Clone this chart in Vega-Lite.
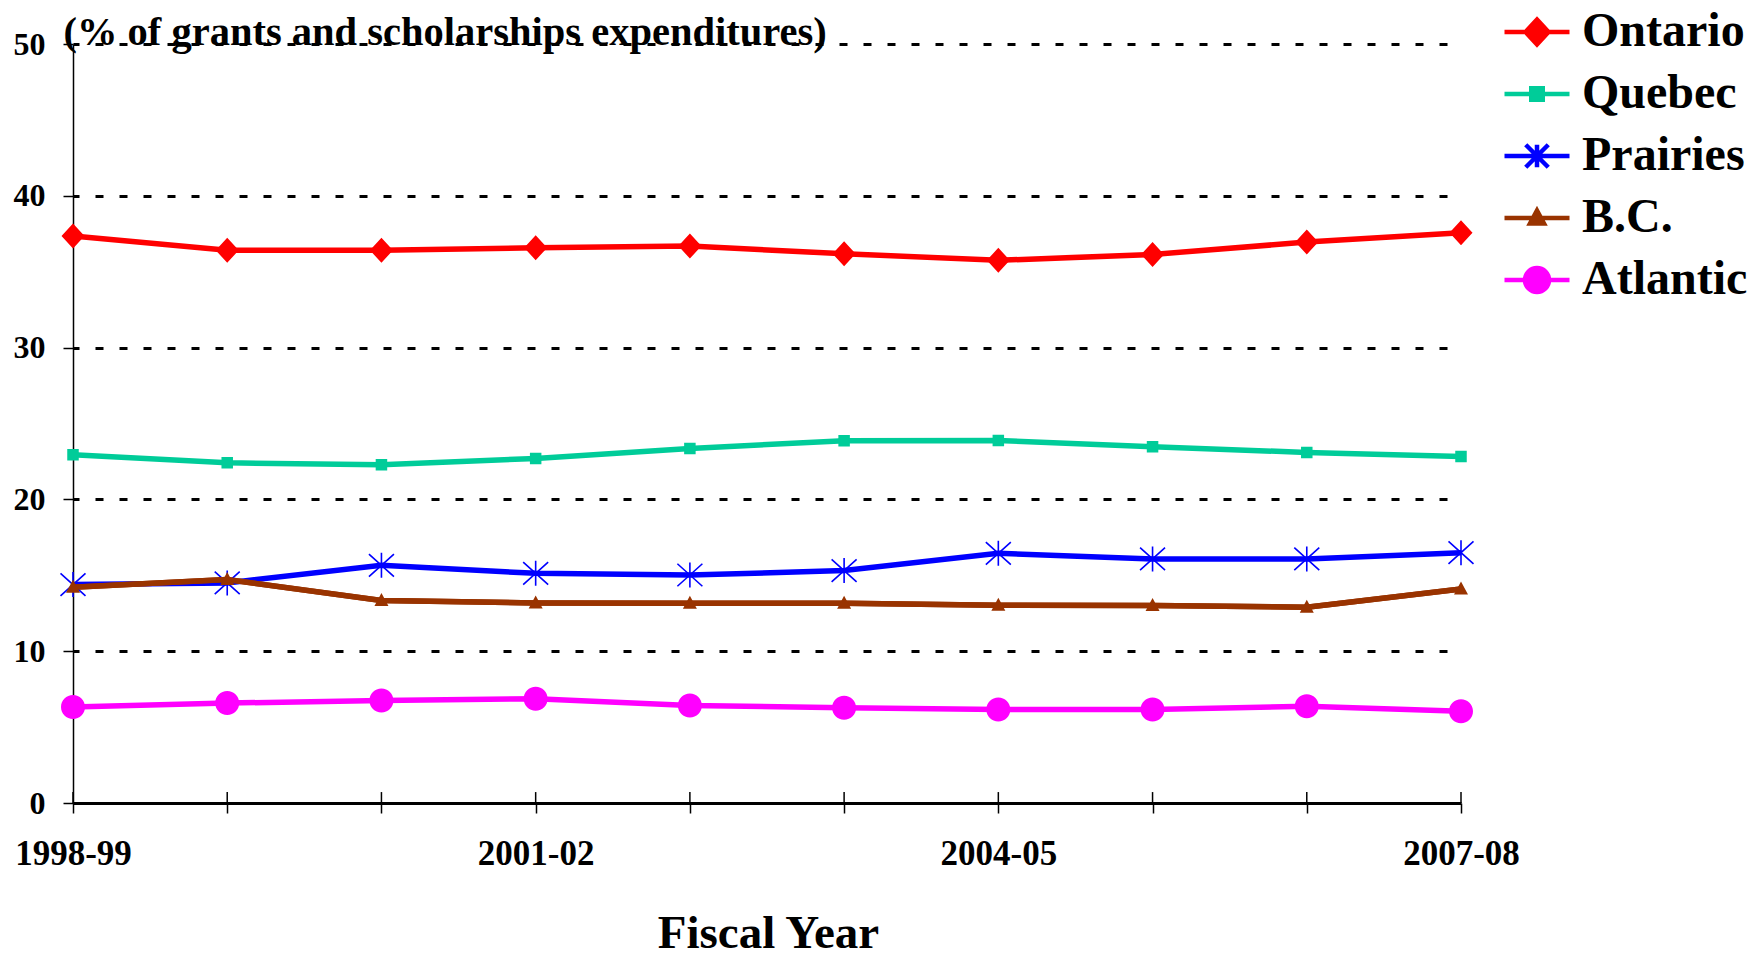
{
  "$schema": "https://vega.github.io/schema/vega-lite/v6.json",
  "width": 1388,
  "height": 759,
  "autosize": {"type": "none"},
  "padding": {"left": 73, "top": 44, "right": 299, "bottom": 150},
  "background": "white",
  "config": {
    "view": {"stroke": null},
    "font": "Liberation Serif",
    "legend": {
      "orient": "none",
      "legendX": 1440,
      "legendY": -36,
      "labelFont": "Liberation Serif",
      "labelFontSize": 48,
      "labelFontWeight": "bold",
      "labelColor": "black",
      "labelOffset": 21,
      "labelLimit": 500,
      "rowPadding": 14,
      "symbolSize": 625,
      "symbolStrokeWidth": 4.5
    }
  },
  "data": {
    "values": [
      {"Year": "1998-99", "Region": "Ontario", "Share": 37.35},
      {"Year": "1999-00", "Region": "Ontario", "Share": 36.41},
      {"Year": "2000-01", "Region": "Ontario", "Share": 36.41},
      {"Year": "2001-02", "Region": "Ontario", "Share": 36.58},
      {"Year": "2002-03", "Region": "Ontario", "Share": 36.69},
      {"Year": "2003-04", "Region": "Ontario", "Share": 36.18},
      {"Year": "2004-05", "Region": "Ontario", "Share": 35.75},
      {"Year": "2005-06", "Region": "Ontario", "Share": 36.14},
      {"Year": "2006-07", "Region": "Ontario", "Share": 36.95},
      {"Year": "2007-08", "Region": "Ontario", "Share": 37.57},
      {"Year": "1998-99", "Region": "Quebec", "Share": 22.94},
      {"Year": "1999-00", "Region": "Quebec", "Share": 22.41},
      {"Year": "2000-01", "Region": "Quebec", "Share": 22.28},
      {"Year": "2001-02", "Region": "Quebec", "Share": 22.7},
      {"Year": "2002-03", "Region": "Quebec", "Share": 23.36},
      {"Year": "2003-04", "Region": "Quebec", "Share": 23.86},
      {"Year": "2004-05", "Region": "Quebec", "Share": 23.88},
      {"Year": "2005-06", "Region": "Quebec", "Share": 23.47},
      {"Year": "2006-07", "Region": "Quebec", "Share": 23.09},
      {"Year": "2007-08", "Region": "Quebec", "Share": 22.83},
      {"Year": "1998-99", "Region": "Prairies", "Share": 14.39},
      {"Year": "1999-00", "Region": "Prairies", "Share": 14.5},
      {"Year": "2000-01", "Region": "Prairies", "Share": 15.66},
      {"Year": "2001-02", "Region": "Prairies", "Share": 15.13},
      {"Year": "2002-03", "Region": "Prairies", "Share": 15.02},
      {"Year": "2003-04", "Region": "Prairies", "Share": 15.31},
      {"Year": "2004-05", "Region": "Prairies", "Share": 16.45},
      {"Year": "2005-06", "Region": "Prairies", "Share": 16.08},
      {"Year": "2006-07", "Region": "Prairies", "Share": 16.08},
      {"Year": "2007-08", "Region": "Prairies", "Share": 16.49},
      {"Year": "1998-99", "Region": "B.C.", "Share": 14.21},
      {"Year": "1999-00", "Region": "B.C.", "Share": 14.72},
      {"Year": "2000-01", "Region": "B.C.", "Share": 13.34},
      {"Year": "2001-02", "Region": "B.C.", "Share": 13.18},
      {"Year": "2002-03", "Region": "B.C.", "Share": 13.16},
      {"Year": "2003-04", "Region": "B.C.", "Share": 13.16},
      {"Year": "2004-05", "Region": "B.C.", "Share": 13.03},
      {"Year": "2005-06", "Region": "B.C.", "Share": 13.01},
      {"Year": "2006-07", "Region": "B.C.", "Share": 12.9},
      {"Year": "2007-08", "Region": "B.C.", "Share": 14.1},
      {"Year": "1998-99", "Region": "Atlantic", "Share": 6.32},
      {"Year": "1999-00", "Region": "Atlantic", "Share": 6.58},
      {"Year": "2000-01", "Region": "Atlantic", "Share": 6.76},
      {"Year": "2001-02", "Region": "Atlantic", "Share": 6.87},
      {"Year": "2002-03", "Region": "Atlantic", "Share": 6.43},
      {"Year": "2003-04", "Region": "Atlantic", "Share": 6.27},
      {"Year": "2004-05", "Region": "Atlantic", "Share": 6.16},
      {"Year": "2005-06", "Region": "Atlantic", "Share": 6.16},
      {"Year": "2006-07", "Region": "Atlantic", "Share": 6.38},
      {"Year": "2007-08", "Region": "Atlantic", "Share": 6.05}
    ]
  },
  "encoding": {
    "x": {
      "field": "Year",
      "type": "ordinal",
      "scale": {
        "type": "point",
        "padding": 0,
        "domain": ["1998-99", "1999-00", "2000-01", "2001-02", "2002-03", "2003-04", "2004-05", "2005-06", "2006-07", "2007-08"]
      },
      "axis": {
        "title": "Fiscal Year",
        "titleFont": "Liberation Serif",
        "titleFontSize": 47,
        "titleFontWeight": "bold",
        "titleColor": "black",
        "titleBaseline": "alphabetic",
        "titleAlign": "center",
        "titleX": 695,
        "titleY": 144,
        "labelExpr": "indexof(['1998-99','2001-02','2004-05','2007-08'], datum.value) >= 0 ? datum.value : ''",
        "labelFont": "Liberation Serif",
        "labelFontSize": 35,
        "labelFontWeight": "bold",
        "labelColor": "black",
        "labelBaseline": "alphabetic",
        "labelAngle": 0,
        "labelPadding": 51,
        "labelOverlap": false,
        "labelFlush": false,
        "tickSize": 10,
        "tickColor": "black",
        "tickWidth": 1.5,
        "domainColor": "black",
        "domainWidth": 3,
        "grid": false
      }
    },
    "y": {
      "field": "Share",
      "type": "quantitative",
      "scale": {"domain": [0, 50], "nice": false},
      "axis": {
        "title": "(% of grants and scholarships expenditures)",
        "titleFont": "Liberation Serif",
        "titleFontSize": 40.5,
        "titleFontWeight": "bold",
        "titleColor": "black",
        "titleAngle": 0,
        "titleAlign": "left",
        "titleBaseline": "alphabetic",
        "titleX": -10,
        "titleY": 0,
        "values": [0, 10, 20, 30, 40, 50],
        "labelFont": "Liberation Serif",
        "labelFontSize": 32,
        "labelFontWeight": "bold",
        "labelColor": "black",
        "labelPadding": 18,
        "tickSize": 10,
        "tickColor": "black",
        "tickWidth": 1.5,
        "domainColor": "black",
        "domainWidth": 1.5,
        "grid": true,
        "gridColor": "black",
        "gridWidth": 3,
        "gridDash": [8, 16],
        "gridDashOffset": 2
      }
    },
    "color": {
      "field": "Region",
      "type": "nominal",
      "scale": {
        "domain": ["Ontario", "Quebec", "Prairies", "B.C.", "Atlantic"],
        "range": ["#FF0000", "#00CC99", "#0000FF", "#993300", "#FF00FF"]
      },
      "legend": {"title": null}
    }
  },
  "layer": [
    {
      "mark": {"type": "line", "strokeWidth": 5.5}
    },
    {
      "transform": [{"filter": "datum.Region === 'Prairies'"}],
      "mark": {"type": "point", "filled": false, "strokeWidth": 1.6, "opacity": 1, "size": 625, "shape": "M0,-1V1M-1,-0.9L1,0.9M-1,0.9L1,-0.9"}
    },
    {
      "transform": [{"filter": "datum.Region === 'B.C.'"}],
      "mark": {"type": "line", "strokeWidth": 5.5}
    },
    {
      "transform": [{"filter": "datum.Region !== 'Prairies'"}],
      "mark": {"type": "point", "filled": true, "opacity": 1, "size": 625},
      "encoding": {
        "shape": {
          "field": "Region",
          "type": "nominal",
          "scale": {
            "domain": ["Ontario", "Quebec", "Prairies", "B.C.", "Atlantic"],
            "range": [
              "M-2.6,0H2.6M0,-1L0.92,0L0,1L-0.92,0Z",
              "M-2.6,0H2.6M-0.46,-0.46H0.46V0.46H-0.46Z",
              "M-2.6,0H2.6M0,-0.9V0.9M-0.9,-0.9L0.9,0.9M-0.9,0.9L0.9,-0.9",
              "M-2.6,0H2.6M0,-0.6L0.56,0.44L-0.56,0.44Z",
              "M-2.6,0H2.6M-0.96,0A0.96,0.96 0 1,0 0.96,0A0.96,0.96 0 1,0 -0.96,0Z"
            ]
          },
          "legend": {"title": null}
        }
      }
    },
    {
      "transform": [{"filter": "datum.Region === 'Ontario'"}],
      "mark": {"type": "rule", "strokeWidth": 1.5},
      "encoding": {
        "y": {"datum": 0},
        "y2": {"datum": 0.72},
        "color": {"value": "black"}
      }
    }
  ]
}
